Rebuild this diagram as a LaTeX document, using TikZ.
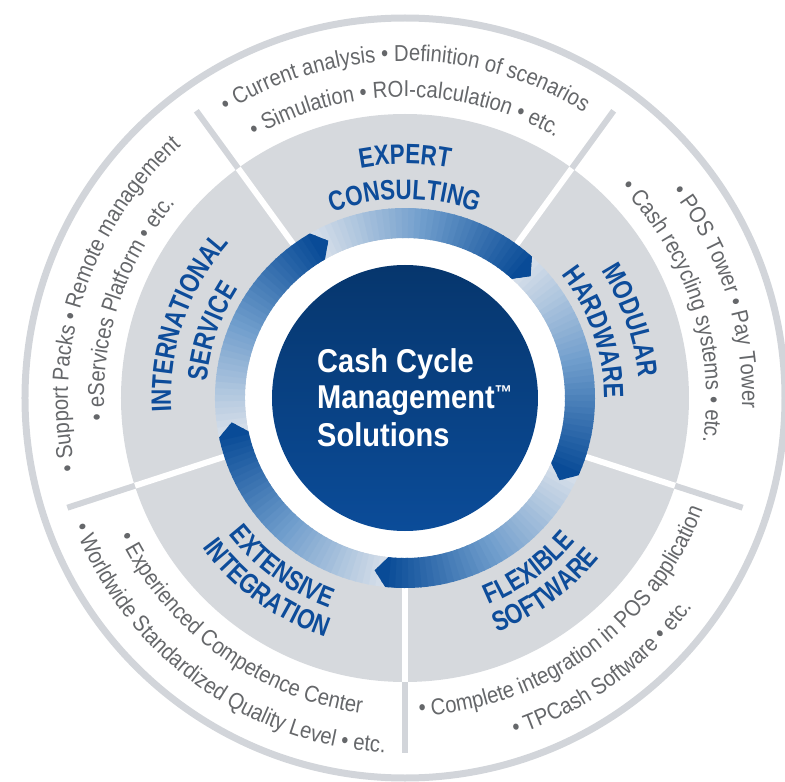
\documentclass[tikz,border=0pt]{standalone}
\usepackage{fontspec}
\newfontfamily\hubfont{Liberation Sans}[FakeStretch=0.88]
\newfontfamily\tagfont{Liberation Sans}[FakeStretch=0.8]
\newfontfamily\notefont{Liberation Sans}[FakeStretch=0.88]
\usetikzlibrary{decorations.text}

\definecolor{ringgrey}{HTML}{D2D5DA}
\definecolor{sectorlight}{HTML}{D6D9DD}
\definecolor{sectormid}{HTML}{CACDD2}
\definecolor{sectordark}{HTML}{BEC2C8}
\definecolor{notegrey}{HTML}{65676A}
\definecolor{tagblue}{HTML}{0D4C9A}
\definecolor{hubtop}{HTML}{06366D}
\definecolor{hubbottom}{HTML}{0B4C99}
\definecolor{arclight}{HTML}{D8E0EA}
\definecolor{arcmid}{HTML}{6F9DCC}
\definecolor{arcdark}{HTML}{094B97}

\pgfdeclareradialshading{sectorshade}{\pgfpoint{0bp}{0bp}}{color(0bp)=(sectorlight); color(33bp)=(sectorlight); color(45bp)=(sectormid); color(50bp)=(sectordark)}

\newcommand\hubstyle{\hubfont\bfseries\fontsize{33}{36}\selectfont}
\newcommand\tagstyle{\color{tagblue}\tagfont\bfseries\fontsize{28}{28}\selectfont}
\newcommand\notestyle{\color{notegrey}\notefont\fontsize{23}{23}\selectfont}
\newcommand\tmark{\raisebox{9pt}{\fontsize{20}{20}\selectfont ™}}

\begin{document}
\begin{tikzpicture}[x=1pt, y=1pt]
	\tikzstyle{spoke}=[line width=6pt]
	\tikzstyle{hubline}=[text=white, font=\hubstyle, inner sep=0pt, anchor=base west]
	\useasboundingbox (-405,-384) rectangle (380,398);
	\draw[ringgrey, line width=7pt] (0,0) circle (380);
	\shade[shading=sectorshade] (0,0) circle (284);
	\foreach \a in {-90,-18,54,126,198}
	{\draw[spoke, white] (\a:185) -- (\a:284);
	 \draw[spoke, ringgrey] (\a:284) -- (\a:355);}
	\fill[white] (0,0) circle (160);
	\foreach \b in {48,120,192,264,336}
	{
	\pgfmathsetmacro\e{\b+72}
	\pgfmathsetmacro\bp{\b-4}
	\pgfmathsetmacro\ep{\e-4}
	\begin{scope}
	\clip (\e:190) arc[start angle=\e, end angle=\b, radius=190] -- (\bp:175)
	     -- (\b:160) arc[start angle=\b, end angle=\e, radius=160] -- (\ep:175) -- cycle;
	\foreach \i in {0,...,38}
	{\pgfmathsetmacro\s{\e+1-2*\i}
	 \pgfmathsetmacro\f{\s-2.4}
	 \pgfmathtruncatemacro\t{min(100,200*\i/36)}
	 \pgfmathtruncatemacro\u{max(0,min(100,200*\i/36-100))}
	 \ifnum\i<19
	   \colorlet{piece}{arcmid!\t!arclight}
	 \else
	   \colorlet{piece}{arcdark!\u!arcmid}
	 \fi
	 \fill[piece] (\s:150) arc[start angle=\s, end angle=\f, radius=150]
	     -- (\f:200) arc[start angle=\f, end angle=\s, radius=200] -- cycle;}
	\end{scope}
	}
	\shade[top color=hubtop, bottom color=hubbottom] (0,0) circle (133);
	\node[hubline] (cash) at (-88,25.3) {Cash Cycle};
	\node[hubline] (management) at (-88,-10.5) {Management\tmark};
	\node[hubline] (solutions) at (-88,-48) {Solutions};
	\foreach \m/\r/\txt in {90/234/EXPERT, 90/199/CONSULTING, 19/234/MODULAR, 19/199/HARDWARE,
	    161/234/INTERNATIONAL, 161/199/SERVICE}
	{\path[decorate, decoration={text along path, text align=center, text/.expanded={|\noexpand\tagstyle|\txt}}]
	    ({\m+45}:\r) arc[start angle=\m+45, end angle=\m-45, radius=\r];}
	\foreach \m/\r/\txt in {-126/223/EXTENSIVE, -126/252/INTEGRATION, -54/223/FLEXIBLE, -54/252/SOFTWARE}
	{\path[decorate, decoration={text along path, text align=center, text/.expanded={|\noexpand\tagstyle|\txt}}]
	    ({\m-45}:\r) arc[start angle=\m-45, end angle=\m+45, radius=\r];}
	\foreach \m/\r/\txt in {90/337/• Current analysis • Definition of scenarios,
	    90/301/• Simulation • ROI-calculation • etc.,
	    18/337/• POS Tower • Pay Tower, 18/301/• Cash recycling systems • etc.,
	    162/337/• Support Packs • Remote management, 162/301/• eServices Platform • etc.}
	{\path[decorate, decoration={text along path, text align=center, text/.expanded={|\noexpand\notestyle|\txt}}]
	    ({\m+45}:\r) arc[start angle=\m+45, end angle=\m-45, radius=\r];}
	\foreach \m/\r/\txt in {-126/318/• Experienced Competence Center,
	    -126/355/• Worldwide Standardized Quality Level • etc.,
	    -54/318/• Complete integration in POS application, -54/355/• TPCash Software • etc.}
	{\path[decorate, decoration={text along path, text align=center, text/.expanded={|\noexpand\notestyle|\txt}}]
	    ({\m-45}:\r) arc[start angle=\m-45, end angle=\m+45, radius=\r];}
\end{tikzpicture}
\end{document}
